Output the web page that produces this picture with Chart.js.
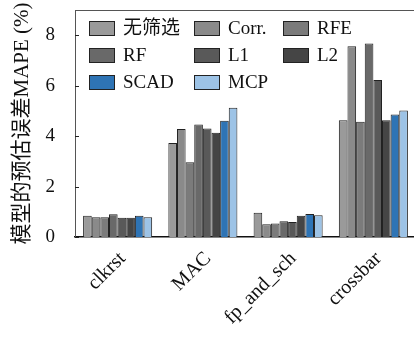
<!DOCTYPE html>
<html>
<head>
<meta charset="utf-8">
<script src="https://cdn.jsdelivr.net/npm/chart.js@4.4.1/dist/chart.umd.min.js"></script>
<style>
html,body{margin:0;padding:0;background:#fff;overflow:hidden;}
#wrap{width:420px;height:343px;}
</style>
</head>
<body>
<div id="wrap"><canvas id="c" width="420" height="343"></canvas></div>
<script>
const categories = ['clkrst', 'MAC', 'fp_and_sch', 'crossbar'];
const seriesNames = ['无筛选', 'Corr.', 'RFE', 'RF', 'L1', 'L2', 'SCAD', 'MCP'];
const vNone = [0.84, 3.73, 0.96, 4.63];
const vCorr = [0.78, 4.28, 0.51, 7.56];
const vRFE  = [0.78, 2.96, 0.54, 4.57];
const vRF   = [0.90, 4.46, 0.62, 7.67];
const vL1   = [0.76, 4.30, 0.59, 6.22];
const vL2   = [0.76, 4.13, 0.84, 4.63];
const vSCAD = [0.84, 4.61, 0.91, 4.86];
const vMCP  = [0.78, 5.12, 0.86, 5.02];
const yTicks = [0, 2, 4, 6, 8];
const yTitle = '模型的预估误差MAPE (%)';

const seriesValues = [vNone, vCorr, vRFE, vRF, vL1, vL2, vSCAD, vMCP];
const colors = ['#9a9a9a', '#8a8a8a', '#7b7b7b', '#696969', '#595959', '#454545', '#2e74b5', '#9dc3e6'];
const FONT = "'Liberation Serif', 'Noto Sans CJK SC', serif";

const legendPlugin = {
  id: 'gridLegend',
  afterDraw(chart) {
    const ctx = chart.ctx;
    const ca = chart.chartArea;
    ctx.save();
    ctx.strokeStyle = '#555';
    ctx.lineWidth = 1;
    ctx.beginPath();
    ctx.moveTo(ca.left, ca.top + 0.5);
    ctx.lineTo(ca.right, ca.top + 0.5);
    ctx.stroke();
    const ys = chart.scales.y;
    ctx.strokeStyle = '#222';
    yTicks.forEach(t => {
      const py = Math.round(ys.getPixelForValue(t)) + 0.5;
      ctx.beginPath();
      ctx.moveTo(ca.left, py);
      ctx.lineTo(ca.left + 4, py);
      ctx.stroke();
    });
    const colX = [ca.left + 14, ca.left + 119, ca.left + 208];
    const rowY = [28, 55, 82];
    ctx.font = '19px ' + FONT;
    ctx.textBaseline = 'middle';
    ctx.textAlign = 'left';
    chart.data.datasets.forEach((ds, i) => {
      const c = i % 3, r = Math.floor(i / 3);
      const x = colX[c], y = rowY[r];
      ctx.fillStyle = ds.backgroundColor;
      ctx.fillRect(x, y - 7, 26, 15);
      ctx.strokeStyle = '#222';
      ctx.lineWidth = 1;
      ctx.strokeRect(x + 0.5, y - 6.5, 25, 14);
      ctx.fillStyle = '#111';
      ctx.fillText(ds.label, x + 34, y + 1);
    });
    ctx.restore();
  }
};

new Chart(document.getElementById('c'), {
  type: 'bar',
  data: {
    labels: categories,
    datasets: seriesNames.map((n, i) => ({
      label: n,
      data: seriesValues[i],
      backgroundColor: colors[i],
      borderColor: '#222',
      borderWidth: 1,
      categoryPercentage: 0.81,
      barPercentage: 1.0
    }))
  },
  options: {
    responsive: false,
    animation: false,
    layout: { padding: { left: 10, top: 10, right: 4, bottom: 0 } },
    plugins: { legend: { display: false }, tooltip: { enabled: false } },
    scales: {
      x: {
        grid: { display: false, drawTicks: false },
        border: { display: true, color: '#111', width: 1.5 },
        ticks: {
          color: '#111',
          font: { family: FONT, size: 20 },
          minRotation: 45, maxRotation: 45,
          padding: 10,
          labelOffset: 5
        },
        afterFit(s) { s.height = 106; s.paddingLeft = 0; s.paddingRight = 0; }
      },
      y: {
        min: 0, max: 9,
        afterBuildTicks(s) { s.ticks = yTicks.map(v => ({ value: v })); },
        grid: { display: false, drawTicks: false },
        border: { display: true, color: '#555', width: 1 },
        ticks: {
          color: '#111',
          font: { family: FONT, size: 19 },
          padding: 20
        },
        title: {
          display: true,
          text: yTitle,
          color: '#111',
          font: { family: FONT, size: 21 },
          padding: { top: 0, bottom: 0 }
        },
        afterFit(s) { s.width = 65; s.paddingTop = 0; s.paddingBottom = 0; }
      }
    }
  },
  plugins: [legendPlugin]
});
</script>
</body>
</html>
